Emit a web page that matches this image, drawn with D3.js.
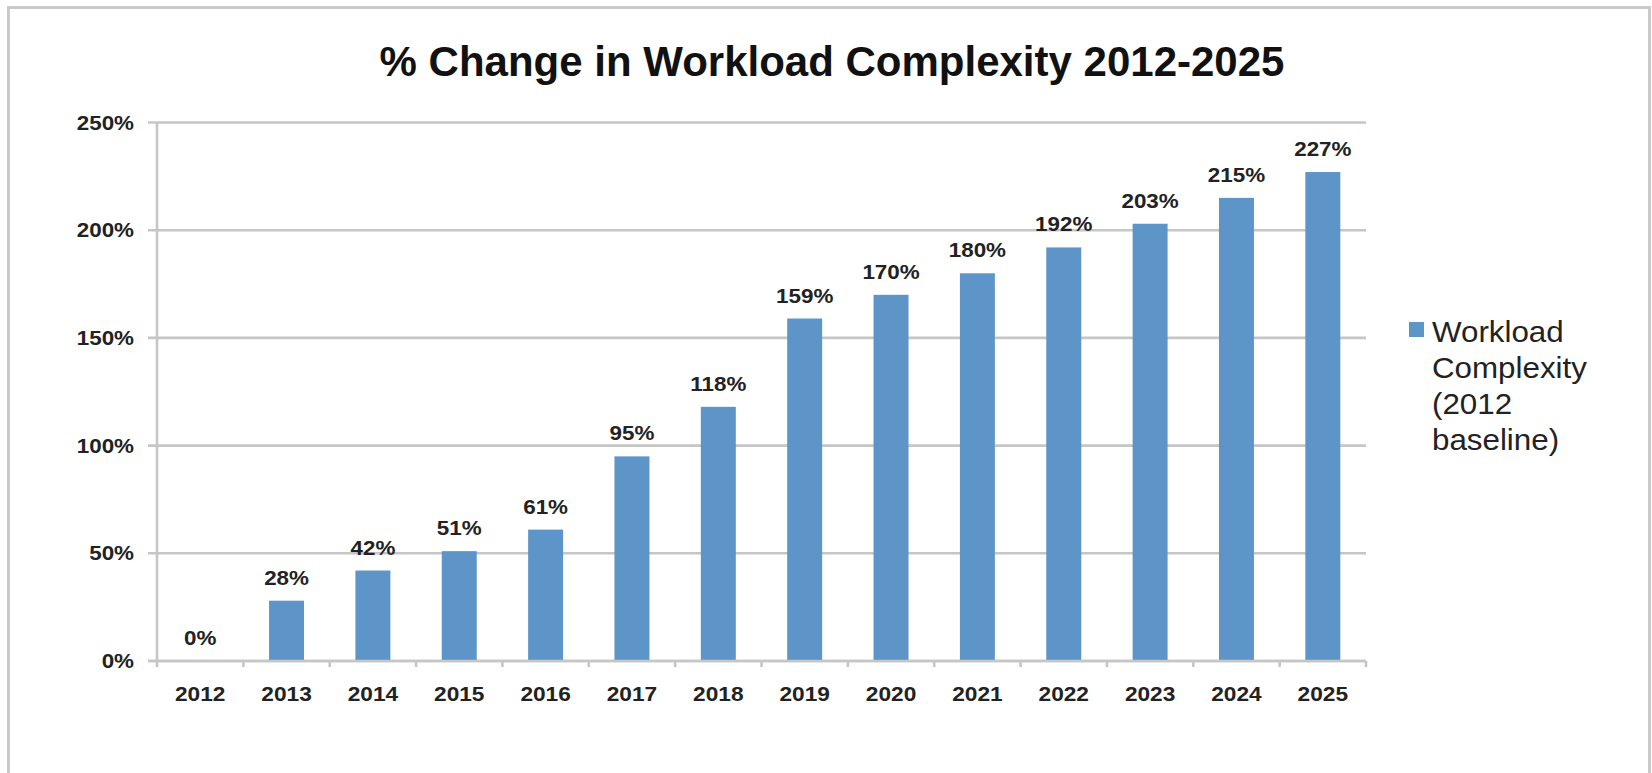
<!DOCTYPE html>
<html>
<head>
<meta charset="utf-8">
<script src="https://cdn.jsdelivr.net/npm/d3@7"></script>
<style>
  html, body { margin: 0; padding: 0; background: #fff; }
  svg { display: block; font-family: "Liberation Sans", Arial, Helvetica, sans-serif; }
</style>
</head>
<body>
<svg id="chart" width="1652" height="773"></svg>
<script>
// Workload complexity, % change against the 2012 baseline
const years = ["2012","2013","2014","2015","2016","2017","2018","2019","2020","2021","2022","2023","2024","2025"];
const changePct = [0, 28, 42, 51, 61, 95, 118, 159, 170, 180, 192, 203, 215, 227];
const yTicks = [0, 50, 100, 150, 200, 250];
const legendLines = ["Workload", "Complexity", "(2012", "baseline)"];
const titleText = "% Change in Workload Complexity 2012-2025";

const plot = { left: 157, right: 1366, top: 122.5, bottom: 661 };
const barColor = "#5e95c9";
const gridColor = "#c6c6c6";
const textColor = "#222";

const svg = d3.select("#chart");

// places text at (px, py) with a slight horizontal widening of the glyphs
function wideText(sel, px, py, sx) {
  return sel
    .attr("x", 0).attr("y", 0)
    .attr("transform", (d, i) => `translate(${px(d, i)},${py(d, i)}) scale(${sx},1)`);
}

// chart frame
svg.append("rect")
  .attr("x", 8.5).attr("y", 7.5)
  .attr("width", 1641).attr("height", 800)
  .attr("fill", "#fff")
  .attr("stroke", "#cacaca").attr("stroke-width", 3);

const x = d3.scaleBand().domain(years).range([plot.left, plot.right]).paddingInner(0.595).paddingOuter(0.2975);
const y = d3.scaleLinear().domain([0, 250]).range([plot.bottom, plot.top]);

// horizontal gridlines with small left ticks
const gy = svg.append("g");
gy.selectAll("line")
  .data(yTicks)
  .join("line")
  .attr("x1", plot.left - 9).attr("x2", plot.right)
  .attr("y1", d => y(d)).attr("y2", d => y(d))
  .attr("stroke", gridColor).attr("stroke-width", 2.6);
wideText(
  gy.selectAll("text").data(yTicks).join("text"),
  () => 134, d => y(d) + 7, 1.12)
  .attr("text-anchor", "end")
  .attr("font-size", 20).attr("font-weight", "bold").attr("fill", textColor)
  .text(d => d + "%");

// vertical axis line
svg.append("line")
  .attr("x1", plot.left).attr("x2", plot.left)
  .attr("y1", plot.top).attr("y2", plot.bottom)
  .attr("stroke", gridColor).attr("stroke-width", 2.6);

// bars
svg.append("g").selectAll("rect")
  .data(years)
  .join("rect")
  .attr("x", (d) => x(d))
  .attr("width", x.bandwidth())
  .attr("y", (d, i) => y(changePct[i]))
  .attr("height", (d, i) => y(0) - y(changePct[i]))
  .attr("fill", barColor);

// category axis with ticks between bands
const step = x.step();
const xAxisG = svg.append("g");
xAxisG.append("line")
  .attr("x1", plot.left - 9).attr("x2", plot.right)
  .attr("y1", plot.bottom).attr("y2", plot.bottom)
  .attr("stroke", gridColor).attr("stroke-width", 2.6);
xAxisG.selectAll("line.tk")
  .data(d3.range(years.length + 1))
  .join("line")
  .attr("class", "tk")
  .attr("x1", i => plot.left + i * step).attr("x2", i => plot.left + i * step)
  .attr("y1", plot.bottom).attr("y2", plot.bottom + 6)
  .attr("stroke", gridColor).attr("stroke-width", 2.6);
wideText(
  xAxisG.selectAll("text").data(years).join("text"),
  d => x(d) + x.bandwidth() / 2, () => 701, 1.08)
  .attr("text-anchor", "middle")
  .attr("font-size", 21).attr("font-weight", "bold").attr("fill", textColor)
  .text(d => d);

// value labels
wideText(
  svg.append("g").selectAll("text").data(years).join("text"),
  d => x(d) + x.bandwidth() / 2, (d, i) => y(changePct[i]) - 16, 1.12)
  .attr("text-anchor", "middle")
  .attr("font-size", 20).attr("font-weight", "bold").attr("fill", textColor)
  .text((d, i) => changePct[i] + "%");

// title
svg.append("text")
  .attr("x", 832).attr("y", 76)
  .attr("text-anchor", "middle")
  .attr("font-size", 42).attr("font-weight", "bold").attr("fill", "#111")
  .text(titleText);

// legend
const lg = svg.append("g");
lg.append("rect")
  .attr("x", 1409).attr("y", 322).attr("width", 15).attr("height", 15)
  .attr("fill", barColor);
wideText(
  lg.selectAll("text").data(legendLines).join("text"),
  () => 1432, (d, i) => 342 + i * 36, 1.08)
  .attr("font-size", 29).attr("fill", textColor)
  .text(d => d);
</script>
</body>
</html>
